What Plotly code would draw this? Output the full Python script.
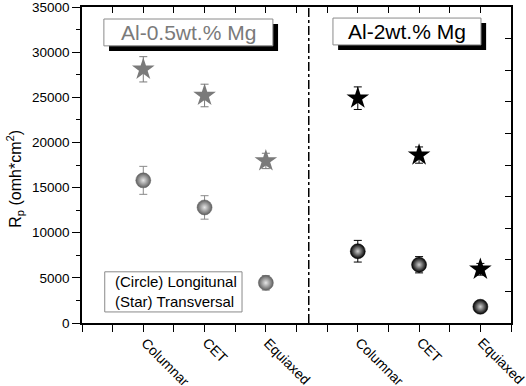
import plotly.graph_objects as go

# ---- data ----
categories = ["Columnar", "CET", "Equiaxed"]
low_mg_long = [15800, 12800, 4450]
low_mg_long_err = [1550, 1300, 800]
low_mg_trans = [28100, 25200, 17950]
low_mg_trans_err = [1400, 1250, 850]
high_mg_long = [7950, 6450, 1800]
high_mg_long_err = [1200, 900, 450]
high_mg_trans = [24900, 18600, 5950]
high_mg_trans_err = [1250, 900, 650]
y_ticks = [0, 5000, 10000, 15000, 20000, 25000, 30000, 35000]
y_tick_labels = ["0", "5000", "10000", "15000", "20000", "25000", "30000", "35000"]

# positions (layout): left group at 2,4,6; right group at 9,11,13
left_x = [2 + 2 * i for i in range(len(categories))]
right_x = [9 + 2 * i for i in range(len(categories))]

FONT = "Liberation Sans, Arial, sans-serif"
GRAY = "#7a7a7a"

fig = go.Figure()

def sphere(x, y, err, edge, center, ecol):
    return go.Scatter(
        x=x, y=y, mode="markers",
        marker=dict(symbol="circle", size=15, color=edge,
                    gradient=dict(type="radial", color=center),
                    line=dict(width=0.5, color=edge)),
        error_y=dict(type="data", array=err, color=ecol, thickness=1, width=4),
        showlegend=False, hoverinfo="skip")

def star(x, y, err, col):
    return go.Scatter(
        x=x, y=y, mode="markers",
        marker=dict(symbol="star", size=17, color=col, line=dict(width=0)),
        error_y=dict(type="data", array=err, color=col, thickness=1, width=4),
        showlegend=False, hoverinfo="skip")

fig.add_trace(sphere(left_x, low_mg_long, low_mg_long_err, "#5e5e5e", "#e6e6e6", "#8a8a8a"))
fig.add_trace(star(left_x, low_mg_trans, low_mg_trans_err, GRAY))
fig.add_trace(sphere(right_x, high_mg_long, high_mg_long_err, "#000000", "#d0d0d0", "#000000"))
fig.add_trace(star(right_x, high_mg_trans, high_mg_trans_err, "#000000"))
# invisible trace for mirrored axes
fig.add_trace(go.Scatter(x=[0], y=[0], xaxis="x2", yaxis="y2", mode="markers",
                         marker=dict(opacity=0), showlegend=False, hoverinfo="skip"))

axis_line = dict(showline=True, linecolor="black", linewidth=1.5, showgrid=False, zeroline=False)

fig.update_layout(
    width=526, height=386,
    margin=dict(l=82, r=15, t=7, b=63, autoexpand=False),
    paper_bgcolor="white", plot_bgcolor="white",
    font=dict(family=FONT, color="black"),
    xaxis=dict(range=[0, 14], tick0=0, dtick=1, showticklabels=False,
               ticks="outside", ticklen=7, tickwidth=1.2, tickcolor="black",
               **axis_line),
    xaxis2=dict(range=[0, 14], overlaying="x", side="top", tick0=0, dtick=1,
                ticks="inside", ticklen=6, tickwidth=1.2, tickcolor="black",
                showticklabels=False, **axis_line),
    yaxis=dict(range=[0, 35000], tickmode="array", tickvals=y_ticks, ticktext=y_tick_labels,
               ticks="outside", ticklen=8, ticklabeloverflow="allow",
               tickwidth=1.2, tickcolor="black", tickfont=dict(size=13.5, family=FONT),
               minor=dict(dtick=2500, ticks="outside", ticklen=4, tickcolor="black", tickwidth=1.2),
               **axis_line),
    yaxis2=dict(range=[0, 35000], overlaying="y", side="right", tick0=0, dtick=3500,
                ticks="inside", ticklen=6, tickwidth=1.2, tickcolor="black",
                showticklabels=False, **axis_line),
)

# rotated category labels
for xi, c in zip(left_x + right_x, categories + categories):
    fig.add_annotation(text=c, xref="x", yref="paper", x=xi, y=0, textangle=45,
                       xanchor="left", yanchor="top", xshift=-8, yshift=-9,
                       showarrow=False, font=dict(size=14, family=FONT, color="black"))

# y axis title
fig.add_annotation(text="R<sub>p</sub> (omh*cm<sup>2</sup>)", xref="paper", yref="paper",
                   x=-0.155, y=0.455, textangle=-90, showarrow=False,
                   font=dict(size=16, family=FONT, color="black"),
                   xanchor="center", yanchor="middle")

# divider
fig.add_shape(type="line", xref="x", yref="paper", x0=7.4, x1=7.4, y0=0, y1=1,
              line=dict(color="black", width=1.5, dash="dashdot"))

# title boxes with shadow
def box(x0, x1, y0, y1, text, tcolor):
    fig.add_shape(type="rect", xref="paper", yref="paper",
                  x0=x0 + 0.012, x1=x1 + 0.012, y0=y0 - 0.016, y1=y1 - 0.016,
                  fillcolor="black", line=dict(width=0))
    fig.add_shape(type="rect", xref="paper", yref="paper",
                  x0=x0, x1=x1, y0=y0, y1=y1,
                  fillcolor="white", line=dict(color="#8a8a8a", width=1))
    fig.add_annotation(text=text, xref="paper", yref="paper",
                       x=(x0 + x1) / 2, y=(y0 + y1) / 2, showarrow=False,
                       font=dict(size=21, family=FONT, color=tcolor),
                       xanchor="center", yanchor="middle")

box(0.051, 0.445, 0.877, 0.962, "Al-0.5wt.% Mg", GRAY)
box(0.585, 0.930, 0.880, 0.965, "Al-2wt.% Mg", "black")

# legend box
fig.add_shape(type="rect", xref="paper", yref="paper",
              x0=0.053, x1=0.373, y0=0.035, y1=0.162,
              fillcolor="white", line=dict(color="#8a8a8a", width=1))
fig.add_annotation(text="(Circle) Longitunal<br>(Star) Transversal", xref="paper", yref="paper",
                   x=0.072, y=0.0985, showarrow=False, align="left",
                   font=dict(size=15, family=FONT, color="black"),
                   xanchor="left", yanchor="middle")

fig.write_html(
    "out.html",
    config={"displayModeBar": False},
    post_script="document.body.style.margin='0';document.body.style.overflow='hidden';",
)
